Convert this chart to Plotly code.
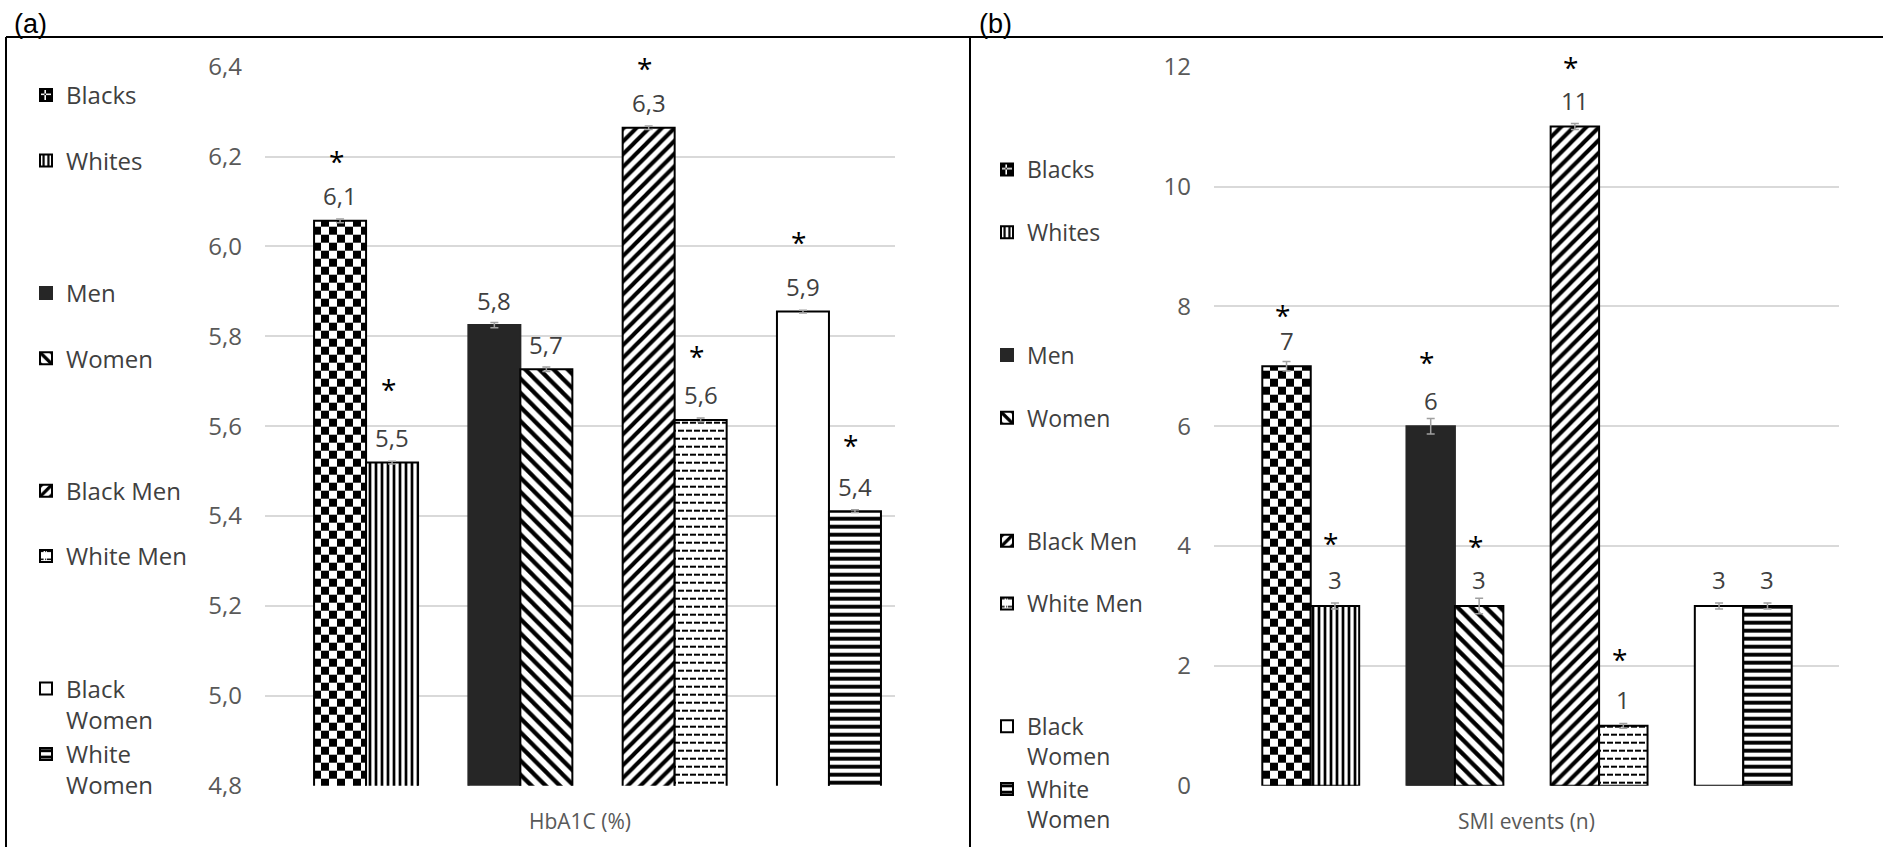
import plotly.graph_objects as go

# ---------------- data ----------------
groups = ["Blacks", "Whites", "Men", "Women", "Black Men", "White Men", "Black Women", "White Women"]
legend_labels = ["Blacks", "Whites", "Men", "Women", "Black Men", "White Men", "Black<br>Women", "White<br>Women"]
category_pos = [0, 0, 1, 1, 2, 2, 3, 3]      # comparison cluster of each bar
pair_side = [0, 1, 0, 1, 0, 1, 0, 1]         # left / right bar in its cluster

hba1c = [6.057, 5.519, 5.825, 5.727, 6.264, 5.614, 5.855, 5.411]
hba1c_err = [0.004, 0.003, 0.006, 0.005, 0.004, 0.004, 0.003, 0.003]
hba1c_star = [6.192, 5.685, None, None, 6.399, 5.758, 6.012, 5.560]

smi = [7.0, 3.0, 6.0, 3.0, 11.0, 1.0, 3.0, 3.0]
smi_err = [0.08, 0.05, 0.13, 0.13, 0.05, 0.04, 0.05, 0.05]
smi_star = [7.872, 4.072, 7.093, 4.017, 12.01, 2.131, None, None]

hba1c_ticks = [4.8, 5.0, 5.2, 5.4, 5.6, 5.8, 6.0, 6.2, 6.4]
smi_ticks = [0, 2, 4, 6, 8, 10, 12]

# ---------------- styling ----------------
W_PX, H_PX = 1883, 847
PLOT_TOP, PLOT_BOTTOM = 66.7, 785.7
FONT = "Open Sans"
TXT = "#404040"
AX = "#595959"
GRID = "#d9d9d9"

try:
    go.bar.marker.Pattern(path="M0,0H1V1H0Z")
    HAS_PATH = True
except Exception:
    HAS_PATH = False

CHECK = "M0,0H8V8H0ZM8,8H16V16H8Z"
DASH = "M1,3H7V5H1ZM9,3H15V5H9ZM5,11H11V13H5ZM13,11H16V13H13ZM0,11H3V13H0Z"


def pat(kind):
    if kind == "check":
        if HAS_PATH:
            return dict(path=CHECK, size=16, solidity=1, fgcolor="black", bgcolor="white", fillmode="replace")
        return dict(shape="+", size=8, solidity=0.5, fgcolor="black", bgcolor="white", fillmode="replace")
    if kind == "dash":
        if HAS_PATH:
            return dict(path=DASH, size=16, solidity=1, fgcolor="black", bgcolor="white", fillmode="replace")
        return dict(shape="-", size=8, solidity=0.2, fgcolor="black", bgcolor="white", fillmode="replace")
    if kind == "none":
        return None
    sizes = {"|": (6, 0.45), "\\": (10, 0.42), "/": (9, 0.45), "-": (8, 0.48)}
    s, so = sizes[kind]
    return dict(shape=kind, size=s, solidity=so, fgcolor="black", bgcolor="white", fillmode="replace")


styles = [
    dict(color="white", line="black", pattern="check"),
    dict(color="white", line="black", pattern="|"),
    dict(color="#262626", line="#262626", pattern="none"),
    dict(color="white", line="black", pattern="\\"),
    dict(color="white", line="black", pattern="/"),
    dict(color="white", line="black", pattern="dash"),
    dict(color="white", line="black", pattern="none"),
    dict(color="white", line="black", pattern="-"),
]

fig = go.Figure()

panels = [
    dict(vals=hba1c, err=hba1c_err, star=hba1c_star, ticks=hba1c_ticks, xa="x", ya="y", legend="legend",
         pref="a", width=0.337, ashift=25),
    dict(vals=smi, err=smi_err, star=smi_star, ticks=smi_ticks, xa="x2", ya="y2", legend="legend2",
         pref="b", width=0.336, ashift=26),
]

annotations = []
for p in panels:
    w = p["width"]
    px_per_unit = (PLOT_BOTTOM - PLOT_TOP) / (p["ticks"][-1] - p["ticks"][0])
    for i, g in enumerate(groups):
        st = styles[i]
        marker = dict(color=st["color"], line=dict(color=st["line"], width=2))
        pt = pat(st["pattern"])
        if pt:
            marker["pattern"] = pt
        name = legend_labels[i] if "<br>" in legend_labels[i] else legend_labels[i] + "<br>\u00a0"
        fig.add_trace(go.Bar(
            x=[category_pos[i]], y=[p["vals"][i]],
            width=[w], offset=[-w if pair_side[i] == 0 else 0],
            marker=marker, name=name,
            legend=p["legend"], legendgroup=p["pref"] + str(category_pos[i]),
            error_y=dict(type="data", array=[p["err"][i]], color="#a0a0a0", thickness=1.5, width=4),
            xaxis=p["xa"], yaxis=p["ya"], hoverinfo="skip",
        ))
        xc = category_pos[i] + (-w / 2 if pair_side[i] == 0 else w / 2)
        v = p["vals"][i]
        label = (f"{v:.1f}".replace(".", ",")) if p["pref"] == "a" else f"{v:.0f}"
        annotations.append(dict(x=xc, y=v, xref=p["xa"], yref=p["ya"], text=label, showarrow=False,
                                yshift=p["ashift"], font=dict(family=FONT, size=24, color=TXT)))
        if p["star"][i] is not None:
            annotations.append(dict(x=xc, y=v, xref=p["xa"], yref=p["ya"], text="*", showarrow=False,
                                    xshift=-4, yshift=(p["star"][i] - v) * px_per_unit - 1,
                                    font=dict(family=FONT, size=28, color="black")))

annotations.append(dict(x=12 / W_PX, y=1 - 24 / H_PX, xref="paper", yref="paper", xanchor="left", yanchor="middle",
                        text="(a)", showarrow=False, font=dict(family="Liberation Sans", size=27, color="black")))
annotations.append(dict(x=977 / W_PX, y=1 - 24 / H_PX, xref="paper", yref="paper", xanchor="left", yanchor="middle",
                        text="(b)", showarrow=False, font=dict(family="Liberation Sans", size=27, color="black")))

ydom = [1 - PLOT_BOTTOM / H_PX, 1 - PLOT_TOP / H_PX]
common_x = dict(showticklabels=False, showgrid=False, zeroline=False, showline=False, ticks="",
                title_font=dict(family=FONT, size=21, color=AX), title_standoff=28)
common_y = dict(showgrid=True, gridcolor=GRID, gridwidth=2, zeroline=False, showline=False, ticks="",
                tickfont=dict(family=FONT, size=24, color=AX), ticklabelstandoff=22)

shapes = [
    dict(type="line", xref="paper", yref="paper", x0=6 / W_PX, x1=1, y0=1 - 37 / H_PX, y1=1 - 37 / H_PX,
         line=dict(color="black", width=2)),
    dict(type="line", xref="paper", yref="paper", x0=6 / W_PX, x1=6 / W_PX, y0=0, y1=1 - 37 / H_PX,
         line=dict(color="black", width=2)),
    dict(type="line", xref="paper", yref="paper", x0=970 / W_PX, x1=970 / W_PX, y0=0, y1=1 - 37 / H_PX,
         line=dict(color="black", width=2)),
]

legend_common = dict(xanchor="left", yanchor="top", traceorder="grouped", valign="top",
                     bgcolor="rgba(0,0,0,0)", itemclick=False, itemdoubleclick=False)

fig.update_layout(
    width=W_PX, height=H_PX, autosize=False,
    margin=dict(l=0, r=0, t=0, b=0, pad=0, autoexpand=False),
    paper_bgcolor="white", plot_bgcolor="white",
    separators=",.",
    barmode="overlay",
    hovermode=False,
    showlegend=True,
    font=dict(family=FONT, color=TXT),
    xaxis=dict(domain=[265 / W_PX, 895 / W_PX], range=[-0.655, 3.428], anchor="y",
               title_text="HbA1C (%)", **common_x),
    yaxis=dict(domain=ydom, range=[hba1c_ticks[0], hba1c_ticks[-1]], tickvals=hba1c_ticks,
               tickformat=".1f", anchor="x", **common_y),
    xaxis2=dict(domain=[1214 / W_PX, 1839 / W_PX], range=[-0.671, 3.664], anchor="y2",
                title_text="SMI events (n)", **common_x),
    yaxis2=dict(domain=ydom, range=[smi_ticks[0], smi_ticks[-1]], tickvals=smi_ticks, anchor="x2", **common_y),
    legend=dict(x=26 / W_PX, y=1 - 73 / H_PX, tracegroupgap=67,
                font=dict(family=FONT, size=24, color=TXT), **legend_common),
    legend2=dict(x=987 / W_PX, y=1 - 148 / H_PX, tracegroupgap=60,
                 font=dict(family=FONT, size=23, color=TXT), **legend_common),
    annotations=annotations,
    shapes=shapes,
)

fig.write_html("out.html", config={"displayModeBar": False},
               post_script="document.body.style.margin='0px';")
